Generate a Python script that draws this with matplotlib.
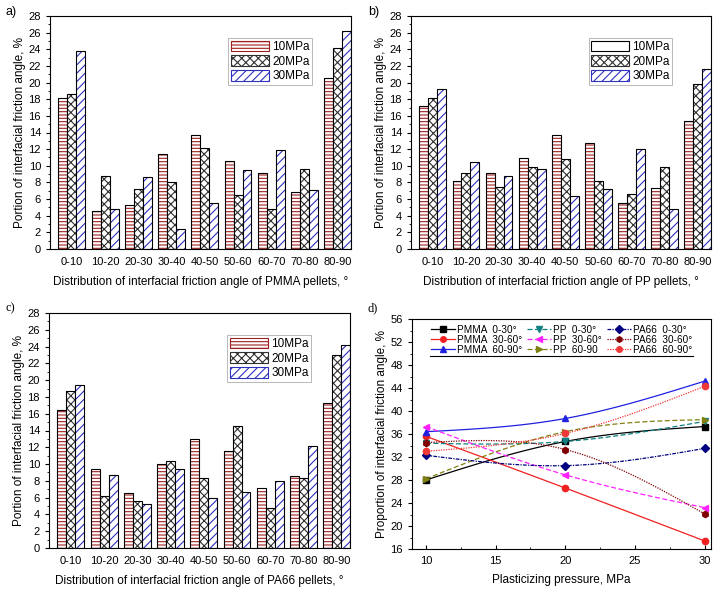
import matplotlib
matplotlib.use("Agg")
import matplotlib.pyplot as plt
import numpy as np
from matplotlib.patches import Patch
from matplotlib.ticker import MultipleLocator

plt.rcParams['font.family'] = ['Liberation Sans', 'DejaVu Sans']
plt.rcParams['hatch.linewidth'] = 0.8

# categories
cats = ['0-10', '10-20', '20-30', '30-40', '40-50', '50-60', '60-70', '70-80', '80-90']
series = ['10MPa', '20MPa', '30MPa']

# panel a (PMMA)
pmma_10 = [18.2, 4.6, 5.3, 11.4, 13.7, 10.6, 9.1, 6.8, 20.5]
pmma_20 = [18.6, 8.8, 7.2, 8.0, 12.1, 6.5, 4.8, 9.6, 24.2]
pmma_30 = [23.8, 4.8, 8.7, 2.4, 5.5, 9.5, 11.9, 7.1, 26.2]

# panel b (PP)
pp_10 = [17.2, 8.2, 9.1, 10.9, 13.7, 12.7, 5.5, 7.3, 15.4]
pp_20 = [18.2, 9.1, 7.4, 9.9, 10.8, 8.2, 6.6, 9.9, 19.8]
pp_30 = [19.2, 10.4, 8.8, 9.6, 6.4, 7.2, 12.0, 4.8, 21.6]

# panel c (PA66)
pa_10 = [16.5, 9.4, 6.5, 10.0, 13.0, 11.5, 7.1, 8.6, 17.3]
pa_20 = [18.7, 6.2, 5.6, 10.4, 8.3, 14.5, 4.8, 8.3, 23.0]
pa_30 = [19.4, 8.7, 5.3, 9.4, 6.0, 6.7, 8.0, 12.1, 24.2]

# panel d
pressure = [10, 20, 30]
d_labels = ['PMMA  0-30°', 'PMMA  30-60°', 'PMMA  60-90°',
            'PP  0-30°', 'PP  30-60°', 'PP  60-90',
            'PA66  0-30°', 'PA66  30-60°', 'PA66  60-90°']
d_values = [
    [28.0, 34.7, 37.3],
    [35.6, 26.6, 17.4],
    [36.4, 38.7, 45.2],
    [34.4, 34.7, 38.2],
    [37.3, 28.9, 23.2],
    [28.2, 36.4, 38.5],
    [32.3, 30.5, 33.5],
    [34.5, 33.3, 22.1],
    [33.0, 36.1, 44.3],
]
d_colors = ['black', '#f02020', '#2020e0', '#108080', '#ff20ff', '#808010',
            '#000080', '#800000', '#f03838']
d_markers = ['s', 'o', '^', 'v', '<', '>', 'D', 'h', 'o']
d_styles = ['-', '-', '-', (0, (4, 2)), (0, (4, 2)), (0, (4, 2)),
            (0, (3, 1, 1, 1)), (0, (1, 1)), (0, (1, 1))]

W, H = 725, 589
fig = plt.figure(figsize=(W / 100, H / 100), dpi=100)


def px_axes(l, t, r, b):
    return fig.add_axes([l / W, 1 - b / H, (r - l) / W, (b - t) / H])


def spline3(x, y, n=40):
    # natural cubic spline through three equally spaced points (drawing only)
    h = x[1] - x[0]
    m = [0.0, 1.5 * (y[0] - 2 * y[1] + y[2]) / h ** 2, 0.0]
    xs, ys = [], []
    for i in range(2):
        t = np.linspace(x[i], x[i + 1], n)
        s = (m[i] * (x[i + 1] - t) ** 3 / (6 * h) + m[i + 1] * (t - x[i]) ** 3 / (6 * h)
             + (y[i] / h - m[i] * h / 6) * (x[i + 1] - t)
             + (y[i + 1] / h - m[i + 1] * h / 6) * (t - x[i]))
        xs.extend(t)
        ys.extend(s)
    return xs, ys


hatches = ['-----', 'xxxx', '////']
hcolors = ['#a02020', '#303030', '#3030c0']


def bar_panel(ax, vals, xlabel, blank_leg=False):
    x = np.arange(len(cats))
    w = 0.27
    for i, v in enumerate(vals):
        ax.bar(x + (i - 1) * w, v, w, facecolor='white', edgecolor=hcolors[i],
               hatch=hatches[i], linewidth=0)
        ax.bar(x + (i - 1) * w, v, w, facecolor='none', edgecolor='black',
               linewidth=0.8)
    ax.set_xlim(-0.66, 8.4)
    ax.set_ylim(0, 28)
    ax.set_xticks(x)
    ax.set_xticklabels(cats)
    ax.yaxis.set_major_locator(MultipleLocator(2))
    ax.yaxis.set_minor_locator(MultipleLocator(1))
    ax.tick_params(axis='x', length=0, labelsize=8, pad=6)
    ax.tick_params(axis='y', direction='out', labelsize=8, length=3)
    ax.tick_params(axis='y', which='minor', direction='out', length=1.5)
    ax.set_xlabel(xlabel, fontsize=8.5, labelpad=6)
    ax.set_ylabel('Portion of interfacial friction angle, %', fontsize=8.5, labelpad=2)
    for s in ax.spines.values():
        s.set_linewidth(0.8)
    handles = []
    for i in range(3):
        if blank_leg and i == 0:
            handles.append(Patch(facecolor='white', edgecolor='black', linewidth=0.8))
        else:
            handles.append(Patch(facecolor='white', edgecolor=hcolors[i],
                                 hatch=hatches[i], linewidth=0.8))
    leg = ax.legend(handles, series, loc='upper right', bbox_to_anchor=(0.89, 0.93),
                    fontsize=8.5, handlelength=3.2, handleheight=1.0,
                    handletextpad=0.3, labelspacing=0.2, borderpad=0.2,
                    frameon=True, fancybox=False, edgecolor='#999999')
    leg.get_frame().set_linewidth(0.6)


ax_a = px_axes(50, 16, 351, 249)
bar_panel(ax_a, [pmma_10, pmma_20, pmma_30],
          'Distribution of interfacial friction angle of PMMA pellets, °')
ax_b = px_axes(411, 16, 711, 249)
bar_panel(ax_b, [pp_10, pp_20, pp_30],
          'Distribution of interfacial friction angle of PP pellets, °', blank_leg=True)
ax_c = px_axes(49, 313, 350, 548)
bar_panel(ax_c, [pa_10, pa_20, pa_30],
          'Distribution of interfacial friction angle of PA66 pellets, °')

# panel d
ax_d = px_axes(412, 319, 711, 549)
for vals, lab, c, m, ls in zip(d_values, d_labels, d_colors, d_markers, d_styles):
    sx, sy = spline3(pressure, vals)
    ax_d.plot(sx, sy, color=c, linestyle=ls, linewidth=0.9)
    ax_d.plot(pressure, vals, linestyle='none', marker=m, color=c, markersize=4.5)
    ax_d.plot([], [], color=c, linestyle=ls, marker=m, markersize=4,
              linewidth=0.9, label=lab)
ax_d.set_xlim(9.0, 30.45)
ax_d.set_ylim(16, 56)
ax_d.xaxis.set_major_locator(MultipleLocator(5))
ax_d.xaxis.set_minor_locator(MultipleLocator(2.5))
ax_d.yaxis.set_major_locator(MultipleLocator(4))
ax_d.yaxis.set_minor_locator(MultipleLocator(2))
ax_d.tick_params(axis='x', direction='in', labelsize=8, length=3, pad=5)
ax_d.tick_params(axis='x', which='minor', direction='in', length=1.5)
ax_d.tick_params(axis='y', direction='out', labelsize=8, length=3)
ax_d.tick_params(axis='y', which='minor', direction='out', length=1.5)
ax_d.set_xlabel('Plasticizing pressure, MPa', fontsize=8.5, labelpad=6)
ax_d.set_ylabel('Proportion of interfacial friction angle, %', fontsize=8.5, labelpad=2)
for s in ax_d.spines.values():
    s.set_linewidth(0.8)
ax_d.legend(loc='upper left', bbox_to_anchor=(0.04, 1.005), ncol=3, fontsize=7.2,
            handlelength=2.4, handletextpad=0.2, columnspacing=0.5,
            labelspacing=0.0, borderpad=0.2, frameon=False)
ax_d.plot([0.06, 0.94], [0.84, 0.84], color='black', linewidth=0.8,
          transform=ax_d.transAxes)

fig.text(5 / W, 1 - 12 / H, 'a)', fontsize=9, va='center')
fig.text(368 / W, 1 - 12 / H, 'b)', fontsize=9, va='center')
fig.text(5 / W, 1 - 308 / H, 'c)', fontsize=9, va='center', family='Liberation Serif')
fig.text(368 / W, 1 - 308 / H, 'd)', fontsize=9, va='center', family='Liberation Serif')

fig.savefig('out.png', dpi=100)
